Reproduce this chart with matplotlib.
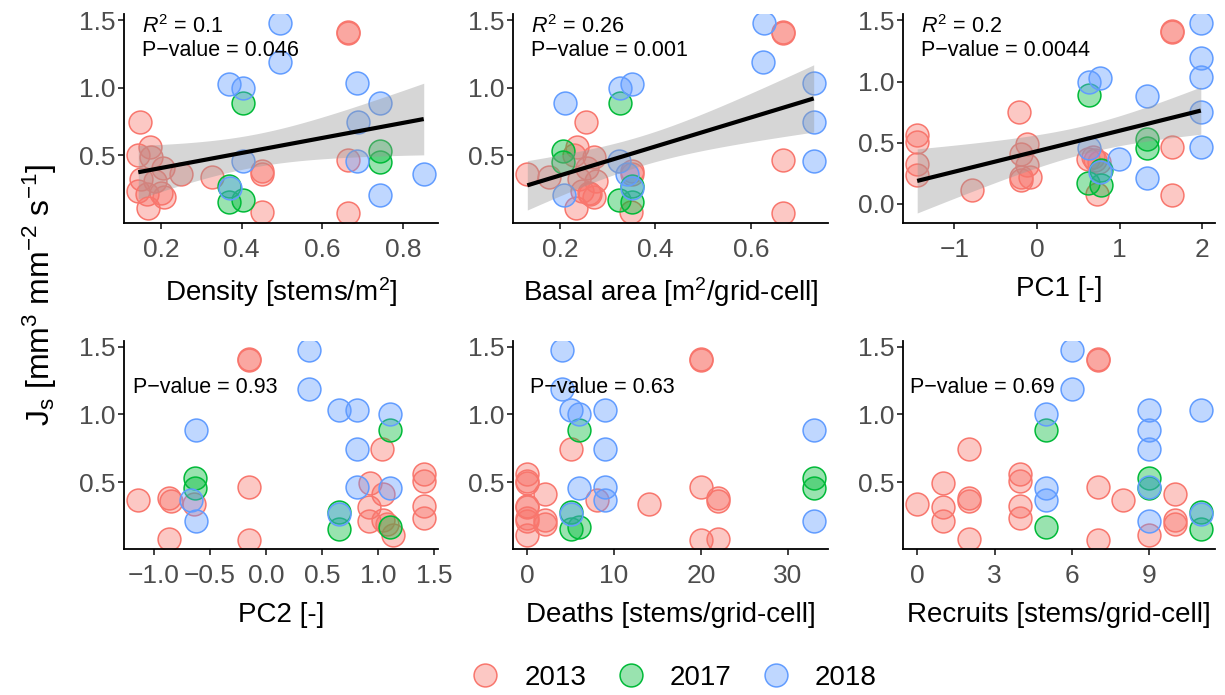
import numpy as np
import matplotlib
matplotlib.use("Agg")
import matplotlib.pyplot as plt
from matplotlib.colors import to_rgba
from matplotlib.lines import Line2D
from matplotlib.ticker import MultipleLocator, FuncFormatter

plt.rcParams['font.family'] = ['Liberation Sans', 'DejaVu Sans']
plt.rcParams['mathtext.fontset'] = 'custom'
plt.rcParams['mathtext.rm'] = 'Liberation Sans'
plt.rcParams['mathtext.it'] = 'Liberation Sans:italic'
plt.rcParams['mathtext.bf'] = 'Liberation Sans:bold'

# ---- observations: one entry per grid-cell measurement ----
year = [2013] * 21 + [2017] * 6 + [2018] * 12

js = [1.41, 1.405, 0.463, 0.075, 0.385, 0.36, 0.08, 0.56, 0.505, 0.325, 0.235,
      0.49, 0.315, 0.215, 0.41, 0.22, 0.19, 0.747, 0.365, 0.34, 0.11,
      0.888, 0.17, 0.53, 0.455, 0.275, 0.155,
      1.475, 1.19, 1.035, 0.747, 0.46, 1.0, 0.456, 1.03, 0.262, 0.885, 0.21, 0.364]

density = [0.663, 0.663, 0.663, 0.663, 0.451, 0.451, 0.451, 0.171, 0.143, 0.151, 0.143,
           0.175, 0.185, 0.165, 0.204, 0.2, 0.208, 0.148, 0.249, 0.327, 0.167,
           0.404, 0.404, 0.744, 0.744, 0.368, 0.368,
           0.494, 0.494, 0.687, 0.689, 0.687, 0.404, 0.403, 0.368, 0.371, 0.744, 0.744, 0.852]

basal_area = [0.667, 0.667, 0.667, 0.667, 0.351, 0.351, 0.348, 0.236, 0.229, 0.24, 0.247,
              0.271, 0.275, 0.264, 0.257, 0.262, 0.271, 0.254, 0.132, 0.177, 0.233,
              0.325, 0.323, 0.207, 0.207, 0.35, 0.35,
              0.628, 0.626, 0.731, 0.731, 0.731, 0.325, 0.323, 0.35, 0.35, 0.21, 0.208, 0.34]

pc1 = [1.63, 1.63, 1.63, 1.63, 0.68, 0.70, 0.72, -1.45, -1.45, -1.45, -1.45,
       -0.12, -0.12, -0.08, -0.2, -0.2, -0.2, -0.22, 0.62, 0.75, -0.785,
       0.63, 0.62, 1.33, 1.33, 0.77, 0.77,
       1.98, 1.98, 1.98, 1.98, 1.98, 0.624, 0.624, 0.765, 0.765, 1.33, 1.33, 0.987]

pc2 = [-0.15, -0.15, -0.15, -0.15, -0.86, -0.85, -0.86, 1.41, 1.41, 1.41, 1.41,
       0.93, 0.92, 0.92, 1.05, 1.05, 1.08, 1.04, -1.138, -0.64, 1.14,
       1.11, 1.11, -0.628, -0.628, 0.65, 0.65,
       0.389, 0.389, 0.814, 0.814, 0.814, 1.108, 1.108, 0.65, 0.65, -0.623, -0.623, -0.668]

deaths = [20, 20, 20, 20, 22, 22, 22, 0, 0, 0, 0,
          0, 0, 0, 2, 2, 2, 5, 8, 14, 0,
          6, 6, 33, 33, 5, 5,
          4, 4, 9, 9, 9, 6, 6, 5, 5, 33, 33, 9]

recruits = [7, 7, 7, 7, 2, 2, 2, 4, 4, 4, 4,
            1, 1, 1, 10, 10, 10, 2, 8, 0, 9,
            5, 5, 9, 9, 11, 11,
            6, 6, 9, 9, 9, 5, 5, 11, 11, 9, 9, 5]

years = [2013, 2017, 2018]
year_colors = ['#F8766D', '#00BA38', '#619CFF']

x_labels = ['Density [stems/m$^\\mathregular{2}$]',
            'Basal area [m$^\\mathregular{2}$/grid-cell]',
            'PC1 [-]',
            'PC2 [-]',
            'Deaths [stems/grid-cell]',
            'Recruits [stems/grid-cell]']
r2_labels = ['0.1', '0.26', '0.2', None, None, None]
p_labels = ['0.046', '0.001', '0.0044', '0.93', '0.63', '0.69']
x_steps = [0.2, 0.2, 1, 0.5, 10, 3]
x_formats = ['{:.1f}', '{:.1f}', '{:.0f}', '{:.1f}', '{:.0f}', '{:.0f}']
show_fit = [True, True, True, False, False, False]
predictors = [density, basal_area, pc1, pc2, deaths, recruits]

# ---- layout (pixels of a 1225 x 695 canvas) ----
W, H = 1225, 695
cols = [(124, 438), (513, 828), (903, 1215)]
rows = [(14, 222.5), (340.6, 549)]

fig = plt.figure(figsize=(W / 100, H / 100), dpi=100)


def t_quantile_975(df):
    z = 1.959963985
    g1 = (z ** 3 + z) / 4
    g2 = (5 * z ** 5 + 16 * z ** 3 + 3 * z) / 96
    g3 = (3 * z ** 7 + 19 * z ** 5 + 17 * z ** 3 - 15 * z) / 384
    return z + g1 / df + g2 / df ** 2 + g3 / df ** 3


def linear_fit(x, y, n_grid=100):
    n = len(x)
    slope, icpt = np.polyfit(x, y, 1)
    xs = np.linspace(x.min(), x.max(), n_grid)
    yhat = icpt + slope * xs
    resid = y - (icpt + slope * x)
    s = np.sqrt(np.sum(resid ** 2) / (n - 2))
    sxx = np.sum((x - x.mean()) ** 2)
    se = s * np.sqrt(1.0 / n + (xs - x.mean()) ** 2 / sxx)
    t = t_quantile_975(n - 2)
    return xs, yhat, yhat - t * se, yhat + t * se


def expand(lo, hi, frac=0.05):
    d = (hi - lo) * frac
    return lo - d, hi + d


def minus_fmt(fmt):
    return FuncFormatter(lambda v, pos: fmt.format(v).replace('-', '\u2212'))


yarr = np.asarray(js)
yrs = np.asarray(year)
marker_size = 270

for i, xvals in enumerate(predictors):
    r, c = divmod(i, 3)
    x0, x1 = cols[c]
    top, bot = rows[r]
    ax = fig.add_axes([x0 / W, 1 - bot / H, (x1 - x0) / W, (bot - top) / H])
    xarr = np.asarray(xvals, dtype=float)

    for yr, col in zip(years, year_colors):
        m = yrs == yr
        ax.scatter(xarr[m], yarr[m], s=marker_size, facecolor=to_rgba(col, 0.4),
                   edgecolor=col, linewidth=1.1, zorder=2)

    ylo, yhi = yarr.min(), yarr.max()
    if show_fit[i]:
        xs, yhat, lo, hi = linear_fit(xarr, yarr)
        ax.fill_between(xs, lo, hi, color='#999999', alpha=0.4, linewidth=0, zorder=3)
        ax.plot(xs, yhat, color='black', linewidth=3.0, zorder=4, solid_capstyle='butt')
        ylo, yhi = min(ylo, lo.min()), max(yhi, hi.max())

    ax.set_xlim(*expand(xarr.min(), xarr.max()))
    ax.set_ylim(*expand(ylo, yhi))

    ax.xaxis.set_major_locator(MultipleLocator(x_steps[i]))
    ax.xaxis.set_major_formatter(minus_fmt(x_formats[i]))
    ax.yaxis.set_major_locator(MultipleLocator(0.5))
    ax.yaxis.set_major_formatter(minus_fmt('{:.1f}'))

    for side in ('top', 'right'):
        ax.spines[side].set_visible(False)
    for side in ('left', 'bottom'):
        ax.spines[side].set_linewidth(1.3)
        ax.spines[side].set_color('black')
    ax.tick_params(axis='both', length=4, width=1.3, color='#333333',
                   labelcolor='#4D4D4D', labelsize=19)
    ax.tick_params(axis='x', pad=7)
    ax.tick_params(axis='y', pad=2)
    ax.set_xlabel(x_labels[i], fontsize=20, labelpad=10, color='black')

    if r2_labels[i] is not None:
        ax.text(0.057, 0.938, '$R^\\mathregular{2}$ = ' + r2_labels[i], transform=ax.transAxes,
                ha='left', va='center', fontsize=15.5, zorder=5)
        ax.text(0.057, 0.827, 'P\u2212value = ' + p_labels[i], transform=ax.transAxes,
                ha='left', va='center', fontsize=15.5, zorder=5)
    else:
        px = [0.029, 0.054, 0.022][c]
        ax.text(px, 0.773, 'P\u2212value = ' + p_labels[i], transform=ax.transAxes,
                ha='left', va='center', fontsize=15.5, zorder=5)

fig.text(40 / W, 1 - 295 / H,
         'J$_\\mathregular{s}$ [mm$^\\mathregular{3}$ mm$^\\mathregular{-2}$ s$^\\mathregular{-1}$]',
         rotation=90, ha='center', va='center', fontsize=23)

handles = [Line2D([], [], marker='o', linestyle='', markersize=np.sqrt(marker_size),
                  markerfacecolor=to_rgba(col, 0.4), markeredgecolor=col,
                  markeredgewidth=1.1) for col in year_colors]
fig.legend(handles, [str(y) for y in years], loc='center',
           bbox_to_anchor=(674 / W, 1 - 678 / H), ncol=3, frameon=False,
           fontsize=20, handlelength=1.0, handletextpad=0.9, columnspacing=1.1)

fig.savefig('out.png', dpi=100)
